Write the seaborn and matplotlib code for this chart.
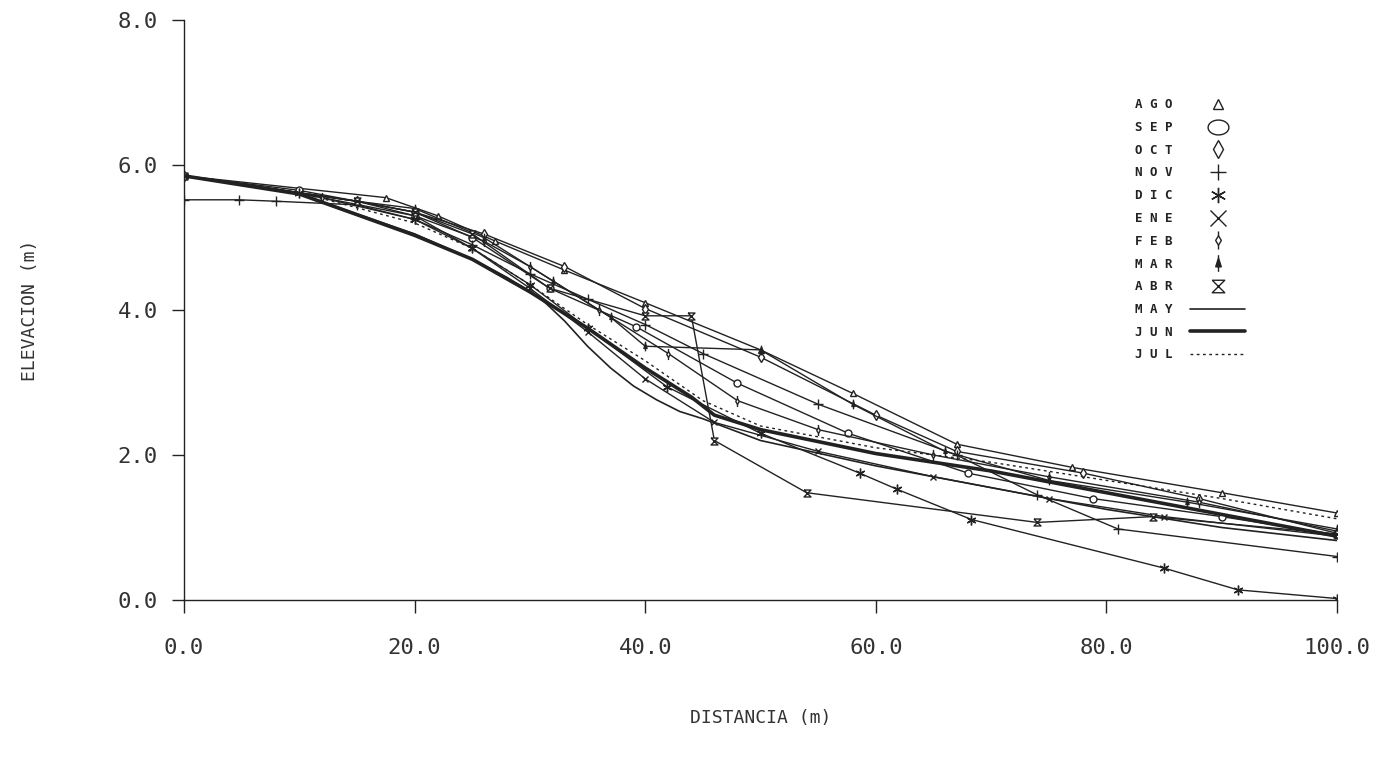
import numpy as np
import pandas as pd
import matplotlib
matplotlib.use('Agg')
import matplotlib.pyplot as plt
import seaborn as sns
from matplotlib.path import Path
from matplotlib.lines import Line2D

# perfiles de playa, distancia (m) / elevacion (m)
meses = ['AGO', 'SEP', 'OCT', 'NOV', 'DIC', 'ENE', 'FEB', 'MAR', 'ABR', 'MAY', 'JUN', 'JUL']

x_ago = [0, 17.5, 22, 27, 33, 40, 50, 58, 67, 77, 90, 100]
y_ago = [5.85, 5.55, 5.3, 4.95, 4.55, 4.1, 3.45, 2.85, 2.15, 1.83, 1.48, 1.2]
x_sep = [0, 10, 20, 25, 31.7, 39.2, 48, 57.6, 68, 78.8, 90, 100]
y_sep = [5.85, 5.65, 5.35, 5.0, 4.3, 3.77, 2.99, 2.3, 1.75, 1.4, 1.15, 0.9]
x_oct = [0, 15, 20, 26, 33, 40, 50, 60, 67, 78, 88, 100]
y_oct = [5.85, 5.5, 5.35, 5.05, 4.6, 4.02, 3.35, 2.55, 2.05, 1.75, 1.4, 0.92]
x_nov = [0, 4.8, 8, 15, 20, 25, 30, 35, 40, 45, 55, 67, 74, 81, 100]
y_nov = [5.52, 5.52, 5.5, 5.45, 5.25, 4.9, 4.5, 4.15, 3.8, 3.4, 2.7, 2.0, 1.45, 0.98, 0.6]
x_dic = [0, 10, 20, 25, 30, 35, 41.9, 50, 58.6, 61.8, 68.3, 85, 91.4, 100]
y_dic = [5.85, 5.62, 5.25, 4.85, 4.35, 3.75, 2.94, 2.3, 1.75, 1.53, 1.11, 0.44, 0.14, 0.02]
x_ene = [0, 15, 20, 25, 30, 35, 40, 46, 55, 65, 75, 85, 100]
y_ene = [5.85, 5.5, 5.3, 4.85, 4.3, 3.7, 3.05, 2.45, 2.05, 1.7, 1.4, 1.15, 0.88]
x_feb = [0, 12, 20, 26, 30, 36, 42, 48, 55, 65, 75, 88, 100]
y_feb = [5.85, 5.55, 5.3, 4.95, 4.6, 4.0, 3.4, 2.75, 2.35, 2.0, 1.7, 1.35, 0.95]
x_mar = [0, 15, 20, 26, 32, 37, 40, 50, 58, 66, 75, 87, 100]
y_mar = [5.85, 5.5, 5.4, 5.0, 4.4, 3.9, 3.5, 3.45, 2.7, 2.05, 1.65, 1.35, 0.98]
x_abr = [0, 15, 20, 25, 31.7, 40, 44, 46, 54, 74, 84, 100]
y_abr = [5.85, 5.5, 5.35, 5.05, 4.3, 3.92, 3.92, 2.2, 1.48, 1.07, 1.15, 0.91]
x_may = [0, 10, 20, 25, 28, 31, 33, 35, 37, 39, 41, 43, 45, 50, 60, 70, 80, 90, 100]
y_may = [5.85, 5.6, 5.05, 4.7, 4.45, 4.15, 3.85, 3.5, 3.2, 2.95, 2.76, 2.6, 2.5, 2.2, 1.85, 1.55, 1.25, 1.0, 0.82]
x_jun = [0, 10, 20, 25, 30, 35, 40, 44, 46, 50, 60, 70, 80, 90, 100]
y_jun = [5.85, 5.6, 5.03, 4.7, 4.25, 3.75, 3.2, 2.8, 2.55, 2.35, 2.02, 1.78, 1.48, 1.18, 0.88]
x_jul = [0, 10, 20, 25, 30, 35, 40, 45, 50, 60, 70, 80, 90, 100]
y_jul = [5.85, 5.62, 5.2, 4.85, 4.35, 3.8, 3.3, 2.75, 2.4, 2.1, 1.9, 1.65, 1.4, 1.12]

xs = [x_ago, x_sep, x_oct, x_nov, x_dic, x_ene, x_feb, x_mar, x_abr, x_may, x_jun, x_jul]
ys = [y_ago, y_sep, y_oct, y_nov, y_dic, y_ene, y_feb, y_mar, y_abr, y_may, y_jun, y_jul]

df = pd.concat([pd.DataFrame({'mes': m, 'dist': x, 'elev': y}) for m, x, y in zip(meses, xs, ys)])

# marcadores tipo plotter
feb_m = Path([(0, 1), (0.6, 0), (0, -1), (-0.6, 0), (0, 1), (0, 1), (0, 1.9), (0, -1), (0, -1.9)],
             [1, 2, 2, 2, 2, 1, 2, 1, 2])
mar_m = Path([(0, 1), (0.5, -0.6), (-0.5, -0.6), (0, 1), (0, 1), (0, 1.5), (0, -0.6), (0, -1.5)],
             [1, 2, 2, 2, 1, 2, 1, 2])
abr_m = Path([(-1, 1), (1, 1), (-1, -1), (1, -1), (-1, 1)], [1, 2, 2, 2, 2])
t = np.linspace(0, 2 * np.pi, 40)
elipse = Path(np.column_stack([1.4 * np.cos(t), np.sin(t)]))

estilos = {
    'AGO': dict(marker='^', ms=5, mfc='white'),
    'SEP': dict(marker='o', ms=5, mfc='white'),
    'OCT': dict(marker='d', ms=5, mfc='white'),
    'NOV': dict(marker='+', ms=7),
    'DIC': dict(marker=(6, 2, 0), ms=7),
    'ENE': dict(marker='x', ms=5),
    'FEB': dict(marker=feb_m, ms=8, mfc='white'),
    'MAR': dict(marker=mar_m, ms=7, mfc='#222'),
    'ABR': dict(marker=abr_m, ms=5, mfc='white'),
    'MAY': dict(lw=1.2),
    'JUN': dict(lw=2.6),
    'JUL': dict(lw=1.0, ls=(0, (2, 2.5))),
}
# tamaños en la leyenda
ley_ms = {'AGO': 7, 'SEP': 15, 'OCT': 9, 'NOV': 12, 'DIC': 11, 'ENE': 12, 'FEB': 13, 'MAR': 12, 'ABR': 9}

sns.set_style('white')
plt.rcParams['font.family'] = ['DejaVu Sans Mono', 'DejaVu Sans']

fig = plt.figure(figsize=(13.95, 7.68), dpi=100)
ax = fig.add_axes([184 / 1395, 1 - 600 / 768, (1337 - 184) / 1395, (600 - 20) / 768])

tinta = '#222222'
for m in meses:
    kw = dict(lw=1.0, mew=1.0)
    kw.update(estilos[m])
    sns.lineplot(data=df[df['mes'] == m], x='dist', y='elev', ax=ax, color=tinta,
                 sort=False, estimator=None, legend=False, mec=tinta, **kw)

ax.set_xlim(0, 100)
ax.set_ylim(0, 8)
ax.set_xticks([0, 20, 40, 60, 80, 100])
ax.set_yticks([0, 2, 4, 6, 8])
ax.set_xticklabels(['0.0', '20.0', '40.0', '60.0', '80.0', '100.0'])
ax.set_yticklabels(['0.0', '2.0', '4.0', '6.0', '8.0'])
sns.despine(ax=ax)
for s in ['left', 'bottom']:
    ax.spines[s].set_color(tinta)
    ax.spines[s].set_linewidth(1.0)
ax.tick_params(bottom=True, left=True, direction='out', length=9, width=1.0, color=tinta,
               labelcolor='#333333', labelsize=16)
ax.tick_params(axis='x', pad=18)
ax.tick_params(axis='y', pad=10)

ax.set_xlabel('DISTANCIA (m)', fontsize=13, color='#333333')
ax.set_ylabel('ELEVACION (m)', fontsize=13, color='#333333')
ax.xaxis.set_label_coords(0.5, -0.203)
ax.xaxis.label.set_va('center')
ax.yaxis.set_label_coords(-0.1336, 0.5)
ax.yaxis.label.set_va('center')

# leyenda
handles = []
for m in meses:
    kw = dict(lw=0, mew=1.0)
    kw.update(estilos[m])
    if m in ('MAY', 'JUN', 'JUL'):
        kw['lw'] = estilos[m]['lw']
    else:
        kw['ms'] = ley_ms[m]
    if m == 'SEP':
        kw['marker'] = elipse
    handles.append(Line2D([], [], color=tinta, mec=tinta, **kw))
labels = [' '.join(m) for m in meses]
leg = ax.legend(handles, labels, loc='upper left', bbox_to_anchor=(1129 / 1395, 1 - 92 / 768),
                bbox_transform=fig.transFigure, frameon=False, markerfirst=False,
                handlelength=4.4, handletextpad=1.4, labelspacing=0.78, borderpad=0,
                prop={'family': 'DejaVu Sans Mono', 'weight': 'bold', 'size': 9})
for txt in leg.get_texts():
    txt.set_color(tinta)

fig.savefig('out.png', dpi=100, facecolor='white')
